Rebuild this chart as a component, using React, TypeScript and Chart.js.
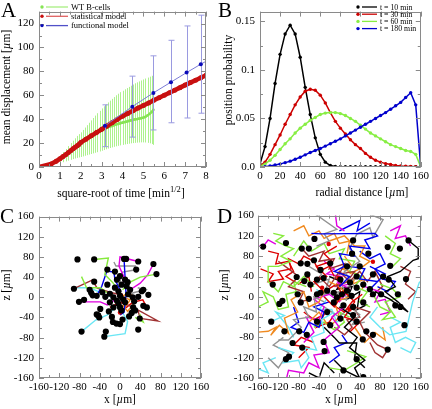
import React, { useEffect, useRef } from "react";
import { Chart, registerables } from "chart.js";
Chart.register(...registerables);

const SERIF = "'Liberation Serif', 'DejaVu Serif', serif";

// ---------- Panel A data ----------
const wtX = [0.58,0.82,1.0,1.15,1.29,1.41,1.53,1.63,1.73,1.83,1.91,2.0,2.1,2.2,2.3,2.4,2.5,2.6,2.7,2.8,2.9,3.0,3.1,3.2,3.3,3.4,3.5,3.6,3.7,3.8,3.9,4.0,4.1,4.2,4.3,4.4,4.5,4.6,4.7,4.8,4.9,5.0,5.1,5.2,5.3,5.4,5.48];
const wtMean = [2.5,4.6,6.6,8.5,10.3,12.0,13.6,15.0,16.3,17.6,18.7,19.8,21.0,22.1,23.2,24.3,25.4,26.4,27.5,28.5,29.6,30.6,31.5,32.3,33.0,33.7,34.4,35.0,35.6,36.1,36.6,37.1,37.6,38.0,38.5,39.0,39.4,39.8,40.1,40.4,40.8,41.3,42.0,43.2,44.5,46.0,47.8];
const wtLow = [1.5,2.5,3.2,4.0,4.7,5.3,6.0,6.6,7.1,7.6,8.0,8.4,8.9,9.4,9.9,10.4,10.9,11.4,11.9,12.4,13.0,13.6,14.2,14.8,15.4,15.9,16.4,16.9,17.3,17.7,18.1,18.5,18.9,19.2,19.5,19.8,20.0,20.2,20.4,20.5,20.6,20.6,20.5,20.2,19.8,19.2,18.5];
const wtHigh = [3.5,6.5,9.5,12.5,15.0,17.5,20.0,22.0,24.0,26.0,27.5,29.0,31.0,33.0,35.0,37.0,39.0,41.0,43.0,45.0,47.0,49.0,50.8,52.5,54.0,55.5,57.0,58.5,60.0,61.3,62.6,63.8,65.0,66.0,67.0,68.0,69.0,70.0,70.8,71.6,72.4,73.2,74.0,74.8,75.6,76.3,77.0];

const statX = [0,0.58,0.82,1.0,1.15,1.29,1.41,1.53,1.63,1.73,1.83,1.91,2.0,2.25,2.5,2.75,3.0,3.25,3.5,3.75,4.0,4.25,4.5,4.75,5.0,5.25,5.5,5.75,6.0,6.25,6.5,6.75,7.0,7.25,7.5,7.75,8.0];
const statY = [0,2.6,4.8,6.8,8.7,10.5,12.2,13.8,15.2,16.5,17.8,18.9,20.5,23.3,26.1,28.8,31.5,34.3,37.0,39.8,42.5,44.8,47.0,49.3,51.5,53.6,55.8,57.9,60.0,62.1,64.3,66.4,68.5,70.6,72.6,74.7,76.7];

const funcX = [3.16,4.47,5.48,6.32,7.07,7.75,8.37];
const funcY = [34.5,50.5,62,71,79,86,92];
const funcLow = [17,25,31,37,41,45,48];
const funcHigh = [52,76,93,106,118,127,135];

// ---------- Panel B data ----------
const radial = [0,5,10,15,20,25,30,35,40,45,50,55,60,65,70,75,80,85,90,95,100,105,110,115,120,125,130,135,140,145,150,155,160];
const p10 = [0.003,0.021,0.05,0.086,0.116,0.137,0.146,0.137,0.113,0.082,0.054,0.030,0.013,0.005,0.0015,0.0005,0.0002,0.0002,0.0002,0.0002,0.0002,0.0002,0.0002,0.0002,0.0002,0.0002,0.0002,0.0002,0.0002,0.0002,0.0002,0.0002,0.0002];
const p30 = [0.001,0.005,0.013,0.023,0.033,0.044,0.054,0.064,0.072,0.078,0.080,0.079,0.074,0.066,0.056,0.047,0.040,0.034,0.028,0.023,0.019,0.014,0.010,0.007,0.005,0.0035,0.0025,0.0015,0.001,0.0007,0.0005,0.0003,0.0002];
const p60 = [0.001,0.003,0.007,0.012,0.018,0.024,0.029,0.035,0.040,0.044,0.048,0.051,0.054,0.0555,0.056,0.056,0.055,0.053,0.050,0.047,0.043,0.039,0.035,0.032,0.029,0.026,0.023,0.021,0.019,0.017,0.016,0.013,0];
const p180 = [0,0.0003,0.001,0.002,0.003,0.0045,0.006,0.008,0.010,0.0125,0.015,0.017,0.019,0.0215,0.024,0.0265,0.029,0.032,0.035,0.038,0.041,0.044,0.047,0.050,0.053,0.056,0.0595,0.063,0.0665,0.0715,0.0765,0.064,0];
const bLabels = ["t = 10 min","t = 30 min","t = 60 min","t = 180 min"];

// ---------- colours ----------
const K = "#000000", R = "#dd0000", G = "#86ea3c", B = "#0000ee", M = "#e000e0", C = "#6ae6f4", BR = "#a03232", O = "#f08a20", GR = "#929292";

// ---------- Panel C data ----------
const cTracks: [string, number[][]][] = [
  [G, [[-51,75],[-23,78],[-30,45],[-15,30],[0,10]]],
  [G, [[-76,41],[-66,19],[-39,19],[-20,5]]],
  [G, [[72,46],[40,40],[20,30],[5,15]]],
  [G, [[39,-33],[46,-49],[30,-40]]],
  [M, [[36,71],[0,80],[-2,62],[8,40],[5,20]]],
  [M, [[66,66],[55,45],[40,28],[20,15]]],
  [M, [[-81,-9],[-39,-9],[-25,-15],[-10,-5]]],
  [B, [[-46,3],[-36,22],[-26,52],[-12,50],[-10,35],[0,15]]],
  [B, [[8,76],[10,40],[12,5],[8,-30],[0,-35]]],
  [BR, [[-91,17],[-55,34],[-45,18],[-20,10],[0,5]]],
  [BR, [[26,-20],[75,-47],[40,-42],[35,-25],[15,-15]]],
  [C, [[-76,-68],[-48,-45],[-25,-35],[-8,-20]]],
  [C, [[-31,-78],[10,-72],[15,-48],[5,-30]]],
  [C, [[-85,19],[-60,19],[-40,10],[-15,0]]],
  [GR, [[-12,70],[-8,62],[30,62],[28,54],[5,50],[0,30]]],
  [GR, [[35,19],[50,15],[30,10],[15,5]]],
  [O, [[0,0],[20,10],[30,-8],[15,-28],[5,-15]]],
  [O, [[-10,-10],[10,-20],[20,-5],[-5,5]]],
  [R, [[53,-20],[45,-5],[25,-10],[10,-22],[0,-30]]],
  [R, [[-20,-20],[0,-10],[15,-15]]],
];
const cDots = [[-84,75],[-51,75],[8,76],[12,76],[36,71],[66,66],[72,46],[-25,55],[-10,51],[32,55],[-91,17],[-51,31],[-60,15],[-57,9],[-54,4],[-71,-5],[-81,-9],[-46,3],[-29,1],[-20,7],[13,22],[16,6],[46,15],[43,12],[56,5],[36,1],[53,-20],[46,-17],[26,-20],[39,-42],[30,-26],[23,-31],[-39,-23],[-46,-34],[-43,-36],[-41,-40],[-16,-39],[-14,-49],[-7,-52],[0,-53],[5,-44],[36,-64],[-28,-68],[-76,-68],[-31,-78],[-13,-20],[-3,-13],[0,-20],[3,-26],[-13,0],[-6,-7],[0,3],[6,-4],[-3,12],[-10,19],[3,25],[10,35],[0,42],[-6,35],[15,30],[20,15],[25,0],[-20,-10],[10,-10],[-25,25],[28,-8],[-35,10],[18,-38],[-22,-28]];
const cStarts = [[0,-30],[2,4]];

// ---------- Panel D data ----------
const dTracks: [string, number[][]][] = [
  [O, [[-165,-70],[-140,-68],[-125,-60],[-135,-76],[-118,-56],[-100,-72],[-108,-42],[-82,-30],[-95,-6],[-70,10],[-60,-20],[-40,-10],[-28,15]]],
  [C, [[-120,-100],[-90,-110],[-110,-130],[-80,-125],[-75,-140],[-60,-120],[-70,-100],[-45,-105],[-55,-80],[-30,-70],[-35,-45],[-10,-30]]],
  [M, [[-105,-165],[-100,-145],[-70,-150],[-60,-130],[-40,-140],[-50,-115],[-20,-110],[-30,-85],[0,-60],[-15,-40],[10,-20]]],
  [M, [[-165,100],[-150,99],[-140,112],[-125,104]]],
  [K, [[-10,-125],[10,-145],[40,-160],[30,-140],[50,-125],[20,-100],[35,-80],[10,-60],[30,-40],[0,-20]]],
  [K, [[136,111],[155,95],[155,75],[145,72],[120,50],[95,40],[110,20],[90,10],[115,-10],[135,-30],[120,-20],[100,-5],[70,10]]],
  [C, [[165,35],[157,28],[144,-10],[131,-68],[99,-75],[80,-60],[60,-40],[75,-20]]],
  [B, [[-55,125],[-35,124],[70,125],[75,120],[50,112],[60,95],[20,100],[30,80],[0,85],[10,60],[-10,50],[20,40],[0,20]]],
  [GR, [[-50,165],[-5,133],[-30,124],[-20,110],[-45,100]]],
  [GR, [[53,165],[86,152],[66,117],[60,136],[34,123],[20,95],[40,70],[10,50],[30,20]]],
  [G, [[-130,125],[-110,120],[-125,110],[-105,100],[-90,95],[-115,80],[-95,70],[-120,60],[-140,60],[-140,30],[-120,10],[-110,30],[-90,20],[-70,40],[-50,20]]],
  [R, [[-155,55],[-130,45],[-140,30],[-110,35],[-120,50],[-95,55],[-100,75],[-80,65],[-70,80],[-50,70],[-40,50],[-20,60],[-10,40]]],
  [BR, [[-74,95],[-60,80],[-30,90],[-40,70],[-10,75],[-20,55],[10,65],[0,45],[30,50],[15,30],[-10,20]]],
  [G, [[66,5],[80,-20],[100,-30],[85,-45],[110,-40],[90,-10],[120,0],[105,15],[80,25]]],
  [BR, [[60,-90],[70,-110],[85,-120],[95,-104],[75,-95],[50,-70],[40,-50],[60,-30],[30,-20]]],
  [GR, [[-120,-85],[-100,-85],[-75,-60],[-90,-45],[-60,-40],[-70,-20],[-45,-30],[-50,0],[-30,-10]]],
  [O, [[-20,110],[10,120],[30,100],[50,100],[40,80],[60,70],[40,55],[20,45]]],
  [M, [[-8,165],[-5,140],[10,130]]],
  [M, [[50,20],[80,10],[70,-10],[90,-5],[100,-30],[80,-35]]],
  [G, [[15,-106],[52,-118],[35,-130],[10,-145],[-20,-140]]],
  [R, [[-30,0],[-10,-20],[10,10],[30,-10],[10,-40],[40,-50],[20,-70]]],
  [B, [[-90,-20],[-80,-50],[-95,-60],[-70,-70],[-60,-50],[-40,-60],[-30,-30],[-50,-20],[-20,-10]]],
  [O, [[-60,-50],[-40,-30],[-20,-60],[0,-40],[-10,-10],[20,0],[0,20],[-20,30]]],
  [B, [[20,60],[50,55],[40,35],[75,30],[60,15],[90,45],[60,60]]],
  [BR, [[-120,70],[-100,55],[-80,40],[-100,20],[-70,10],[-80,-10],[-55,-5]]],
  [C, [[-134,-49],[-108,-37],[-125,-30],[-100,-60],[-90,-80]]],
  [K, [[-30,-60],[-10,-80],[0,-91],[34,-91],[30,-120],[50,-140]]],
  [R, [[-5,100],[-30,85],[-15,70],[-45,60],[-25,40],[-50,30],[-30,10],[-5,25],[5,5],[-15,-15],[10,-30],[25,-10],[45,5]]],
  [G, [[-90,80],[-70,110],[-55,90],[-30,105],[-20,85],[10,95],[0,75],[30,70],[20,50],[45,40],[30,20],[55,10],[40,-10],[60,-20]]],
  [M, [[-70,-90],[-50,-70],[-65,-40],[-40,-45],[-30,-20],[-50,-5],[-20,5],[0,-10],[20,15],[-5,30]]],
  [BR, [[-40,40],[-20,20],[0,50],[20,30],[40,50],[55,30],[70,50],[85,20],[60,0]]],
  [B, [[40,90],[60,75],[80,85],[90,65],[70,55],[85,35],[110,30],[95,10],[75,20]]],
  [G, [[-160,-20],[-140,-10],[-150,10],[-130,0],[-120,-25],[-100,-20],[-105,5],[-85,10],[-90,30],[-65,20]]],
  [R, [[-140,90],[-120,85],[-125,65],[-100,70],[-90,50],[-105,40],[-80,25],[-60,40],[-55,10]]],
  [O, [[-90,130],[-70,140],[-60,120],[-40,130],[-30,115],[-10,125],[0,105],[20,110],[15,85]]],
  [C, [[120,-100],[140,-110],[150,-90],[130,-80],[110,-90],[100,-60],[120,-50],[100,-40]]],
  [K, [[-60,-150],[-40,-160],[-30,-130],[-10,-150]]],
  [GR, [[-140,-120],[-120,-140],[-100,-110],[-130,-95],[-110,-80]]],
  [M, [[100,130],[120,140],[110,115],[130,120],[140,100]]],
  [G, [[90,120],[110,105],[100,85],[120,75],[105,60]]],
  [BR, [[120,60],[140,50],[130,25],[150,10],[135,-5]]],
  [B, [[-20,-130],[0,-115],[-10,-100],[15,-90],[5,-75]]],
  [GR, [[-30,-20],[0,-40],[20,-20],[40,-35],[25,-55],[50,-50]]],
  [O, [[30,-60],[50,-90],[70,-70],[90,-85],[85,-60]]],
  [R, [[-80,-120],[-60,-100],[-90,-95],[-75,-80],[-50,-90]]],
  [G, [[-50,-60],[-30,-50],[-10,-65],[10,-50],[0,-30],[20,-40]]],
  [B, [[0,130],[20,140],[40,150],[35,130],[60,145]]],
  [C, [[-165,-140],[-140,-150],[-150,-130],[-125,-120]]],
  [GR, [[-60,60],[-35,45],[-50,25],[-20,35],[-30,5],[0,10],[-10,-5],[15,-5],[5,25],[30,35]]],
  [K, [[-20,40],[5,30],[-5,15],[25,20],[15,-5],[40,10],[35,-25],[55,-15]]],
  [C, [[-45,15],[-25,-5],[-40,-25],[-15,-25],[-5,-50],[20,-30],[30,-55]]],
  [O, [[10,80],[25,60],[5,55],[35,45],[25,25],[50,35],[45,15]]],
  [R, [[-70,-30],[-50,-45],[-30,-35],[-45,-60],[-20,-50],[-10,-35]]],
  [M, [[-30,70],[-10,55],[-25,45],[5,40],[-5,20],[20,25]]],
  [BR, [[-10,-60],[10,-75],[25,-60],[15,-45],[40,-40],[30,-25]]],
];
const dDots = [[-150,99],[-105,106],[-74,95],[-60,95],[-49,114],[27,111],[57,85],[95,98],[119,95],[136,111],[100,61],[131,35],[25,85],[-63,65],[-131,24],[-84,39],[-69,31],[-112,-8],[-118,-14],[-134,-49],[-108,-68],[-79,-68],[-64,-75],[-92,-91],[-73,-100],[-31,-89],[-29,-107],[-99,-118],[-105,-123],[34,-123],[46,-84],[95,-104],[120,-20],[110,-17],[128,-56],[115,5],[82,5],[66,5],[86,40],[97,34],[-44,5],[-24,12],[-11,8],[5,5],[15,12],[34,18],[47,24],[21,28],[2,34],[-31,37],[-44,34],[-57,24],[-11,-11],[8,-17],[27,-20],[47,-11],[-24,-30],[2,-43],[27,-36],[34,-49],[53,-68],[66,-75],[-18,-56],[-44,-49],[-82,5],[-76,-11],[-60,-4],[15,60],[34,40],[40,60],[66,44],[-18,66],[-50,72],[-37,53],[-76,66],[8,-145],[47,-158],[-37,8],[-5,-1],[24,2],[60,15],[-63,44]];
const dStarts = [[-21,104],[66,69],[8,8],[-2,37],[-34,18],[20,-25]];

// ---------- helpers ----------
const seq = (a: number, b: number, s: number) => {
  const out: number[] = [];
  for (let v = a; v <= b + s * 1e-6; v += s) out.push(+v.toFixed(6));
  return out;
};
const pts = (xs: number[], ys: number[]) => xs.map((x, i) => ({ x, y: ys[i] }));
const pairs = (a: number[][]) => a.map(([x, y]) => ({ x, y }));

function framePlugin(xMaj: number[], xMin: number[], yMaj: number[], yMin: number[]) {
  return {
    id: "frame",
    afterDraw(chart: any) {
      const { ctx, chartArea: a, scales } = chart;
      ctx.save();
      ctx.strokeStyle = "#8a8a8a";
      ctx.lineWidth = 1;
      ctx.strokeRect(Math.round(a.left) + 0.5, Math.round(a.top) + 0.5, Math.round(a.right - a.left) - 1, Math.round(a.bottom - a.top) - 1);
      const drawX = (vals: number[], len: number) => vals.forEach((v) => {
        const x = Math.round(scales.x.getPixelForValue(v)) + 0.5;
        ctx.beginPath(); ctx.moveTo(x, a.bottom); ctx.lineTo(x, a.bottom - len);
        ctx.moveTo(x, a.top); ctx.lineTo(x, a.top + len); ctx.stroke();
      });
      const drawY = (vals: number[], len: number) => vals.forEach((v) => {
        const y = Math.round(scales.y.getPixelForValue(v)) + 0.5;
        ctx.beginPath(); ctx.moveTo(a.left, y); ctx.lineTo(a.left + len, y);
        ctx.moveTo(a.right, y); ctx.lineTo(a.right - len, y); ctx.stroke();
      });
      drawX(xMaj, 5); drawX(xMin, 3); drawY(yMaj, 5); drawY(yMin, 3);
      ctx.restore();
    },
  };
}

const errorBars = {
  id: "errorBars",
  beforeDatasetDraw(chart: any, args: any) {
    const ds: any = chart.data.datasets[args.index];
    if (!ds.errLow) return;
    const { ctx, chartArea: a } = chart;
    const xs = chart.scales.x, ys = chart.scales.y;
    ctx.save();
    ctx.beginPath(); ctx.rect(a.left, a.top, a.right - a.left, a.bottom - a.top); ctx.clip();
    ctx.strokeStyle = ds.errColor; ctx.lineWidth = 1;
    ds.data.forEach((p: any, i: number) => {
      const x = Math.round(xs.getPixelForValue(p.x)) + 0.5;
      const y1 = ys.getPixelForValue(ds.errLow[i]);
      const y2 = ys.getPixelForValue(ds.errHigh[i]);
      ctx.beginPath(); ctx.moveTo(x, y1); ctx.lineTo(x, y2);
      if (ds.errCap) {
        ctx.moveTo(x - ds.errCap, y1); ctx.lineTo(x + ds.errCap, y1);
        ctx.moveTo(x - ds.errCap, y2); ctx.lineTo(x + ds.errCap, y2);
      }
      ctx.stroke();
    });
    ctx.restore();
  },
};

function legendPlugin(items: { label: string; point: string; line: string }[], y0: number, dy: number, px: number, l1: number, l2: number, tx: number, size: number) {
  return {
    id: "inlegend",
    afterDraw(chart: any) {
      const ctx = chart.ctx;
      ctx.save();
      ctx.font = `${size}px ${SERIF}`;
      ctx.textBaseline = "middle";
      items.forEach((it, i) => {
        const y = y0 + i * dy;
        ctx.fillStyle = it.point;
        ctx.beginPath(); ctx.arc(px, y, 1.7, 0, Math.PI * 2); ctx.fill();
        ctx.strokeStyle = it.line; ctx.lineWidth = 1.3;
        ctx.beginPath(); ctx.moveTo(l1, y); ctx.lineTo(l2, y); ctx.stroke();
        ctx.fillStyle = "#000";
        ctx.fillText(it.label, tx, y + 0.5);
      });
      ctx.restore();
    },
  };
}

const tickFont = { family: SERIF, size: 11 };

function axes(xmin: number, xmax: number, xstep: number, ymin: number, ymax: number, ystep: number, yW: number, xH: number, ypad: number, yCb?: (v: number) => string) {
  return {
    x: {
      type: "linear", min: xmin, max: xmax,
      grid: { display: false, drawTicks: false }, border: { display: false },
      ticks: { stepSize: xstep, includeBounds: false, font: tickFont, color: "#000", padding: 3, maxRotation: 0, autoSkip: false },
      afterFit: (s: any) => { s.height = xH; },
    },
    y: {
      type: "linear", min: ymin, max: ymax,
      grid: { display: false, drawTicks: false }, border: { display: false },
      ticks: { stepSize: ystep, includeBounds: false, font: tickFont, color: "#000", padding: ypad, autoSkip: false, ...(yCb ? { callback: yCb } : {}) },
      afterFit: (s: any) => { s.width = yW; },
    },
  };
}

const base = (padding: any) => ({
  responsive: false,
  animation: false,
  events: [],
  layout: { padding },
  plugins: { legend: { display: false }, tooltip: { enabled: false } },
});

function makeA(): any {
  return {
    type: "scatter",
    data: {
      datasets: [
        { data: pts(funcX, funcY), showLine: true, borderColor: "#7a7ad6", borderWidth: 1, pointRadius: 2, pointBackgroundColor: "#0a0ab8", pointBorderWidth: 0, errLow: funcLow, errHigh: funcHigh, errColor: "#9a9ae0", errCap: 3, order: 1 },
        { data: pts(statX, statY), showLine: true, borderColor: "#c81010", borderWidth: 4.5, pointRadius: 2.5, pointBackgroundColor: "#c81010", pointBorderWidth: 0, order: 2 },
        { data: pts(wtX, wtMean), showLine: true, borderColor: "#86e454", borderWidth: 2.2, pointRadius: 1.4, pointBackgroundColor: "#86e454", pointBorderWidth: 0, errLow: wtLow, errHigh: wtHigh, errColor: "#aef28e", order: 3 },
      ],
    },
    options: { ...base({ left: 0, right: 10, top: 0, bottom: 0 }), scales: axes(0, 8, 1, 0, 130, 20, 39, 38, 5) },
    plugins: [errorBars, framePlugin(seq(0, 8, 1), seq(0.5, 7.5, 1), seq(0, 120, 20), seq(10, 130, 20)),
      legendPlugin([
        { label: "WT B-cells", point: "#86e454", line: "#a8ee80" },
        { label: "statistical model", point: "#c81010", line: "#e06060" },
        { label: "functional model", point: "#0a0ab8", line: "#5050c8" },
      ], 7, 9.3, 42, 46, 68, 71, 8.5)],
  };
}

function makeB(): any {
  const cols = ["#000000", "#cc0000", "#88ee44", "#0000cc"];
  const series = [p10, p30, p60, p180];
  return {
    type: "scatter",
    data: {
      datasets: series.map((s, i) => ({ data: pts(radial, s), showLine: true, borderColor: cols[i], borderWidth: 1.5, pointRadius: 1.7, pointBackgroundColor: cols[i], pointBorderWidth: 0, order: 4 - i })),
    },
    options: { ...base({ left: 0, right: 8, top: 0, bottom: 0 }), scales: axes(0, 160, 20, 0, 0.16, 0.05, 44, 38, 5, (v: number) => (v === 0 ? "0.0" : String(Number(v.toFixed(3))))) },
    plugins: [framePlugin(seq(0, 160, 20), [], seq(0, 0.15, 0.05), seq(0.025, 0.125, 0.05)),
      legendPlugin(bLabels.map((l, i) => ({ label: l, point: cols[i], line: cols[i] })), 7, 7.2, 142, 146, 161, 164, 7.8)],
  };
}

function makeTracks(tracks: [string, number[][]][], dots: number[][], starts: number[][], yW: number, right: number, top: number, ypad: number): any {
  return {
    type: "scatter",
    data: {
      datasets: [
        { data: pairs(dots), pointRadius: 3.1, pointBackgroundColor: "#000", pointBorderWidth: 0, showLine: false, order: 0 },
        { data: pairs(starts), pointRadius: 2.2, pointBackgroundColor: "#dd0000", pointBorderWidth: 0, showLine: false, order: 1 },
        ...tracks.map(([c, p]) => ({ data: pairs(p), showLine: true, borderColor: c, borderWidth: 1.4, pointRadius: 0, order: 2 })),
      ],
    },
    options: { ...base({ left: 0, right, top, bottom: 0 }), scales: axes(-160, 160, 40, -160, 160, 40, yW, 31, ypad) },
    plugins: [framePlugin(seq(-160, 160, 40), seq(-140, 140, 40), seq(-160, 160, 40), seq(-140, 140, 40))],
  };
}

function Panel({ left, top, w, h, make }: { left: number; top: number; w: number; h: number; make: () => any }) {
  const ref = useRef<HTMLCanvasElement>(null);
  useEffect(() => {
    if (!ref.current) return;
    const chart = new Chart(ref.current, make());
    return () => chart.destroy();
  }, []);
  return <canvas ref={ref} width={w} height={h} style={{ position: "absolute", left, top, width: w, height: h }} />;
}

const label = (content: React.ReactNode, cx: number, cy: number, rotate = false, size = 11.5) => (
  <div style={{ position: "absolute", left: cx, top: cy, transform: `translate(-50%, -50%)${rotate ? " rotate(-90deg)" : ""}`, whiteSpace: "nowrap", fontFamily: SERIF, fontSize: size, color: "#000", lineHeight: 1 }}>{content}</div>
);
const letter = (t: string, x: number, y: number) => (
  <div style={{ position: "absolute", left: x, top: y, fontFamily: SERIF, fontSize: 21, color: "#000", lineHeight: 1 }}>{t}</div>
);
const mu = <i>µ</i>;

export default function App() {
  return (
    <div style={{ position: "fixed", left: 0, top: 0, width: 432, height: 409, background: "#fff", overflow: "hidden" }}>
      <Panel left={0} top={0} w={216} h={205} make={makeA} />
      <Panel left={216} top={0} w={216} h={205} make={makeB} />
      <Panel left={0} top={205} w={216} h={204} make={() => makeTracks(cTracks, cDots, cStarts, 39, 15, 7, 5)} />
      <Panel left={216} top={205} w={216} h={204} make={() => makeTracks(dTracks, dDots, dStarts, 42, 9, 6, 4)} />
      {label(<>square-root of time [min<sup style={{ fontSize: 8.5 }}>1/2</sup>]</>, 121, 192)}
      {label(<>mean displacement [{mu}m]</>, 7, 87, true)}
      {label(<>radial distance [{mu}m]</>, 362, 193)}
      {label("position probability", 229, 80, true)}
      {label(<>x [{mu}m]</>, 120, 400)}
      {label(<>z [{mu}m]</>, 7, 285, true)}
      {label(<>x [{mu}m]</>, 341, 400)}
      {label(<>z [{mu}m]</>, 225, 285, true)}
      {letter("A", 1, 0)}
      {letter("B", 218, 0)}
      {letter("C", 0, 206)}
      {letter("D", 217, 206)}
    </div>
  );
}
